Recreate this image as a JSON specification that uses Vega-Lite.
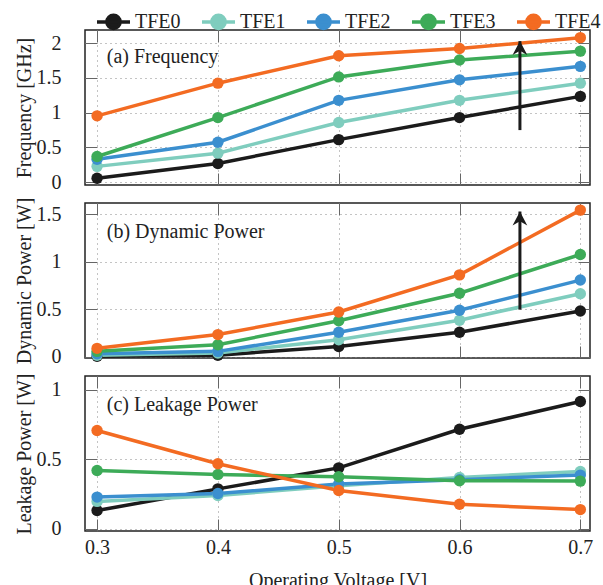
{
  "$schema": "https://vega.github.io/schema/vega-lite/v6.json",
  "padding": {"left": 13, "top": 3, "right": 0, "bottom": 0},
  "spacing": 18,
  "bounds": "flush",
  "datasets": {
    "freq": [
      {"v": 0.3, "val": 0.057, "s": "TFE0"}, {"v": 0.4, "val": 0.27, "s": "TFE0"}, {"v": 0.5, "val": 0.613, "s": "TFE0"}, {"v": 0.6, "val": 0.93, "s": "TFE0"}, {"v": 0.7, "val": 1.235, "s": "TFE0"},
      {"v": 0.3, "val": 0.228, "s": "TFE1"}, {"v": 0.4, "val": 0.418, "s": "TFE1"}, {"v": 0.5, "val": 0.86, "s": "TFE1"}, {"v": 0.6, "val": 1.178, "s": "TFE1"}, {"v": 0.7, "val": 1.425, "s": "TFE1"},
      {"v": 0.3, "val": 0.33, "s": "TFE2"}, {"v": 0.4, "val": 0.575, "s": "TFE2"}, {"v": 0.5, "val": 1.178, "s": "TFE2"}, {"v": 0.6, "val": 1.473, "s": "TFE2"}, {"v": 0.7, "val": 1.667, "s": "TFE2"},
      {"v": 0.3, "val": 0.37, "s": "TFE3"}, {"v": 0.4, "val": 0.93, "s": "TFE3"}, {"v": 0.5, "val": 1.515, "s": "TFE3"}, {"v": 0.6, "val": 1.758, "s": "TFE3"}, {"v": 0.7, "val": 1.886, "s": "TFE3"},
      {"v": 0.3, "val": 0.955, "s": "TFE4"}, {"v": 0.4, "val": 1.425, "s": "TFE4"}, {"v": 0.5, "val": 1.82, "s": "TFE4"}, {"v": 0.6, "val": 1.924, "s": "TFE4"}, {"v": 0.7, "val": 2.08, "s": "TFE4"}
    ],
    "dyn": [
      {"v": 0.3, "val": 0.003, "s": "TFE0"}, {"v": 0.4, "val": 0.014, "s": "TFE0"}, {"v": 0.5, "val": 0.107, "s": "TFE0"}, {"v": 0.6, "val": 0.256, "s": "TFE0"}, {"v": 0.7, "val": 0.481, "s": "TFE0"},
      {"v": 0.3, "val": 0.014, "s": "TFE1"}, {"v": 0.4, "val": 0.038, "s": "TFE1"}, {"v": 0.5, "val": 0.177, "s": "TFE1"}, {"v": 0.6, "val": 0.384, "s": "TFE1"}, {"v": 0.7, "val": 0.662, "s": "TFE1"},
      {"v": 0.3, "val": 0.03, "s": "TFE2"}, {"v": 0.4, "val": 0.055, "s": "TFE2"}, {"v": 0.5, "val": 0.256, "s": "TFE2"}, {"v": 0.6, "val": 0.488, "s": "TFE2"}, {"v": 0.7, "val": 0.807, "s": "TFE2"},
      {"v": 0.3, "val": 0.055, "s": "TFE3"}, {"v": 0.4, "val": 0.125, "s": "TFE3"}, {"v": 0.5, "val": 0.378, "s": "TFE3"}, {"v": 0.6, "val": 0.668, "s": "TFE3"}, {"v": 0.7, "val": 1.077, "s": "TFE3"},
      {"v": 0.3, "val": 0.087, "s": "TFE4"}, {"v": 0.4, "val": 0.232, "s": "TFE4"}, {"v": 0.5, "val": 0.471, "s": "TFE4"}, {"v": 0.6, "val": 0.862, "s": "TFE4"}, {"v": 0.7, "val": 1.545, "s": "TFE4"}
    ],
    "leak": [
      {"v": 0.3, "val": 0.132, "s": "TFE0"}, {"v": 0.4, "val": 0.288, "s": "TFE0"}, {"v": 0.5, "val": 0.439, "s": "TFE0"}, {"v": 0.6, "val": 0.717, "s": "TFE0"}, {"v": 0.7, "val": 0.917, "s": "TFE0"},
      {"v": 0.3, "val": 0.198, "s": "TFE1"}, {"v": 0.4, "val": 0.24, "s": "TFE1"}, {"v": 0.5, "val": 0.311, "s": "TFE1"}, {"v": 0.6, "val": 0.37, "s": "TFE1"}, {"v": 0.7, "val": 0.413, "s": "TFE1"},
      {"v": 0.3, "val": 0.229, "s": "TFE2"}, {"v": 0.4, "val": 0.255, "s": "TFE2"}, {"v": 0.5, "val": 0.323, "s": "TFE2"}, {"v": 0.6, "val": 0.354, "s": "TFE2"}, {"v": 0.7, "val": 0.387, "s": "TFE2"},
      {"v": 0.3, "val": 0.42, "s": "TFE3"}, {"v": 0.4, "val": 0.392, "s": "TFE3"}, {"v": 0.5, "val": 0.375, "s": "TFE3"}, {"v": 0.6, "val": 0.347, "s": "TFE3"}, {"v": 0.7, "val": 0.344, "s": "TFE3"},
      {"v": 0.3, "val": 0.708, "s": "TFE4"}, {"v": 0.4, "val": 0.469, "s": "TFE4"}, {"v": 0.5, "val": 0.276, "s": "TFE4"}, {"v": 0.6, "val": 0.177, "s": "TFE4"}, {"v": 0.7, "val": 0.139, "s": "TFE4"}
    ],
    "notesA": [{"v": 0.308, "val": 1.8, "label": "(a) Frequency"}],
    "notesB": [{"v": 0.308, "val": 1.31, "label": "(b) Dynamic Power"}],
    "notesC": [{"v": 0.308, "val": 0.89, "label": "(c) Leakage Power"}],
    "arrowA": [{"v": 0.65, "lo": 0.75, "hi": 2.03}],
    "arrowB": [{"v": 0.65, "lo": 0.495, "hi": 1.53}]
  },
  "vconcat": [
    {
      "width": 505, "height": 155,
      "layer": [
        {"data": {"name": "freq"}, "mark": {"type": "line", "strokeWidth": 3.5},
         "encoding": {
           "x": {"field": "v", "type": "quantitative", "scale": {"domain": [0.29, 0.708], "nice": false, "zero": false}, "axis": {"labels": false, "title": null, "values": [0.3, 0.4, 0.5, 0.6, 0.7], "tickSize": -12}},
           "y": {"field": "val", "type": "quantitative", "scale": {"domain": [-0.04, 2.19], "nice": false, "zero": false}, "axis": {"title": "Frequency [GHz]", "values": [0, 0.5, 1, 1.5, 2], "format": "~g", "tickSize": -12, "labelPadding": 36, "titlePadding": 2}},
           "color": {"field": "s", "type": "nominal", "scale": {"domain": ["TFE0", "TFE1", "TFE2", "TFE3", "TFE4"], "range": ["#1b1b1b", "#7fcdbe", "#3b8fcf", "#3dab58", "#f36b22"]},
             "legend": {"orient": "none", "legendX": 10, "legendY": -27, "direction": "horizontal", "title": null, "symbolType": "M-1,0L1,0M0.4,0A0.4,0.4,0,1,1,-0.4,0A0.4,0.4,0,1,1,0.4,0Z", "symbolSize": 1089, "symbolStrokeWidth": 3.5, "labelFontSize": 20, "labelFont": "Liberation Serif", "labelColor": "#222", "labelOffset": 3, "columnPadding": 14}}
         }},
        {"data": {"name": "freq"}, "mark": {"type": "point", "filled": true, "size": 130, "opacity": 1},
         "encoding": {
           "x": {"field": "v", "type": "quantitative", "scale": {"domain": [0.29, 0.708], "nice": false, "zero": false}, "axis": null},
           "y": {"field": "val", "type": "quantitative", "scale": {"domain": [-0.04, 2.19], "nice": false, "zero": false}, "axis": null},
           "color": {"field": "s", "type": "nominal", "legend": null}
         }},
        {"data": {"name": "freq"}, "mark": {"type": "point", "opacity": 0},
         "encoding": {
           "x": {"field": "v", "type": "quantitative", "scale": {"domain": [0.29, 0.708], "nice": false, "zero": false}, "axis": {"orient": "top", "labels": false, "title": null, "grid": false, "values": [0.3, 0.4, 0.5, 0.6, 0.7], "tickSize": -12}},
           "y": {"field": "val", "type": "quantitative", "scale": {"domain": [-0.04, 2.19], "nice": false, "zero": false}, "axis": {"orient": "right", "labels": false, "title": null, "grid": false, "values": [0, 0.5, 1, 1.5, 2], "tickSize": -12}}
         }},
        {"data": {"name": "notesA"}, "mark": {"type": "text", "align": "left", "baseline": "middle", "fontSize": 20, "font": "Liberation Serif", "color": "#222"},
         "encoding": {
           "x": {"field": "v", "type": "quantitative", "scale": {"domain": [0.29, 0.708], "nice": false, "zero": false}, "axis": null},
           "y": {"field": "val", "type": "quantitative", "scale": {"domain": [-0.04, 2.19], "nice": false, "zero": false}, "axis": null},
           "text": {"field": "label"}
         }},
        {"data": {"name": "arrowA"}, "mark": {"type": "rule", "strokeWidth": 3, "color": "#1b1b1b"},
         "encoding": {
           "x": {"field": "v", "type": "quantitative", "scale": {"domain": [0.29, 0.708], "nice": false, "zero": false}, "axis": null},
           "y": {"field": "lo", "type": "quantitative", "scale": {"domain": [-0.04, 2.19], "nice": false, "zero": false}, "axis": null},
           "y2": {"field": "hi"}
         }},
        {"data": {"name": "arrowA"}, "mark": {"type": "point", "filled": true, "shape": "M0,0L0.95,1.8L0,1.25L-0.95,1.8Z", "size": 240, "color": "#1b1b1b", "opacity": 1},
         "encoding": {
           "x": {"field": "v", "type": "quantitative", "scale": {"domain": [0.29, 0.708], "nice": false, "zero": false}, "axis": null},
           "y": {"field": "hi", "type": "quantitative", "scale": {"domain": [-0.04, 2.19], "nice": false, "zero": false}, "axis": null}
         }}
      ],
      "resolve": {"axis": {"x": "independent", "y": "independent"}}
    },
    {
      "width": 505, "height": 155,
      "layer": [
        {"data": {"name": "dyn"}, "mark": {"type": "line", "strokeWidth": 3.5},
         "encoding": {
           "x": {"field": "v", "type": "quantitative", "scale": {"domain": [0.29, 0.708], "nice": false, "zero": false}, "axis": {"labels": false, "title": null, "values": [0.3, 0.4, 0.5, 0.6, 0.7], "tickSize": -12}},
           "y": {"field": "val", "type": "quantitative", "scale": {"domain": [-0.015, 1.62], "nice": false, "zero": false}, "axis": {"title": "Dynamic Power [W]", "values": [0, 0.5, 1, 1.5], "format": "~g", "tickSize": -12, "labelPadding": 36, "titlePadding": 2}},
           "color": {"field": "s", "type": "nominal", "legend": null}
         }},
        {"data": {"name": "dyn"}, "mark": {"type": "point", "filled": true, "size": 130, "opacity": 1},
         "encoding": {
           "x": {"field": "v", "type": "quantitative", "scale": {"domain": [0.29, 0.708], "nice": false, "zero": false}, "axis": null},
           "y": {"field": "val", "type": "quantitative", "scale": {"domain": [-0.015, 1.62], "nice": false, "zero": false}, "axis": null},
           "color": {"field": "s", "type": "nominal", "legend": null}
         }},
        {"data": {"name": "dyn"}, "mark": {"type": "point", "opacity": 0},
         "encoding": {
           "x": {"field": "v", "type": "quantitative", "scale": {"domain": [0.29, 0.708], "nice": false, "zero": false}, "axis": {"orient": "top", "labels": false, "title": null, "grid": false, "values": [0.3, 0.4, 0.5, 0.6, 0.7], "tickSize": -12}},
           "y": {"field": "val", "type": "quantitative", "scale": {"domain": [-0.015, 1.62], "nice": false, "zero": false}, "axis": {"orient": "right", "labels": false, "title": null, "grid": false, "values": [0, 0.5, 1, 1.5], "tickSize": -12}}
         }},
        {"data": {"name": "notesB"}, "mark": {"type": "text", "align": "left", "baseline": "middle", "fontSize": 20, "font": "Liberation Serif", "color": "#222"},
         "encoding": {
           "x": {"field": "v", "type": "quantitative", "scale": {"domain": [0.29, 0.708], "nice": false, "zero": false}, "axis": null},
           "y": {"field": "val", "type": "quantitative", "scale": {"domain": [-0.015, 1.62], "nice": false, "zero": false}, "axis": null},
           "text": {"field": "label"}
         }},
        {"data": {"name": "arrowB"}, "mark": {"type": "rule", "strokeWidth": 3, "color": "#1b1b1b"},
         "encoding": {
           "x": {"field": "v", "type": "quantitative", "scale": {"domain": [0.29, 0.708], "nice": false, "zero": false}, "axis": null},
           "y": {"field": "lo", "type": "quantitative", "scale": {"domain": [-0.015, 1.62], "nice": false, "zero": false}, "axis": null},
           "y2": {"field": "hi"}
         }},
        {"data": {"name": "arrowB"}, "mark": {"type": "point", "filled": true, "shape": "M0,0L0.95,1.8L0,1.25L-0.95,1.8Z", "size": 240, "color": "#1b1b1b", "opacity": 1},
         "encoding": {
           "x": {"field": "v", "type": "quantitative", "scale": {"domain": [0.29, 0.708], "nice": false, "zero": false}, "axis": null},
           "y": {"field": "hi", "type": "quantitative", "scale": {"domain": [-0.015, 1.62], "nice": false, "zero": false}, "axis": null}
         }}
      ],
      "resolve": {"axis": {"x": "independent", "y": "independent"}}
    },
    {
      "width": 505, "height": 155,
      "layer": [
        {"data": {"name": "leak"}, "mark": {"type": "line", "strokeWidth": 3.5},
         "encoding": {
           "x": {"field": "v", "type": "quantitative", "scale": {"domain": [0.29, 0.708], "nice": false, "zero": false}, "axis": {"title": "Operating Voltage [V]", "values": [0.3, 0.4, 0.5, 0.6, 0.7], "format": "~g", "tickSize": -12, "labelPadding": 18, "titlePadding": 13}},
           "y": {"field": "val", "type": "quantitative", "scale": {"domain": [-0.015, 1.1], "nice": false, "zero": false}, "axis": {"title": "Leakage Power [W]", "values": [0, 0.5, 1], "format": "~g", "tickSize": -12, "labelPadding": 36, "titlePadding": 2}},
           "color": {"field": "s", "type": "nominal", "legend": null}
         }},
        {"data": {"name": "leak"}, "mark": {"type": "point", "filled": true, "size": 130, "opacity": 1},
         "encoding": {
           "x": {"field": "v", "type": "quantitative", "scale": {"domain": [0.29, 0.708], "nice": false, "zero": false}, "axis": null},
           "y": {"field": "val", "type": "quantitative", "scale": {"domain": [-0.015, 1.1], "nice": false, "zero": false}, "axis": null},
           "color": {"field": "s", "type": "nominal", "legend": null}
         }},
        {"data": {"name": "leak"}, "mark": {"type": "point", "opacity": 0},
         "encoding": {
           "x": {"field": "v", "type": "quantitative", "scale": {"domain": [0.29, 0.708], "nice": false, "zero": false}, "axis": {"orient": "top", "labels": false, "title": null, "grid": false, "values": [0.3, 0.4, 0.5, 0.6, 0.7], "tickSize": -12}},
           "y": {"field": "val", "type": "quantitative", "scale": {"domain": [-0.015, 1.1], "nice": false, "zero": false}, "axis": {"orient": "right", "labels": false, "title": null, "grid": false, "values": [0, 0.5, 1], "tickSize": -12}}
         }},
        {"data": {"name": "notesC"}, "mark": {"type": "text", "align": "left", "baseline": "middle", "fontSize": 20, "font": "Liberation Serif", "color": "#222"},
         "encoding": {
           "x": {"field": "v", "type": "quantitative", "scale": {"domain": [0.29, 0.708], "nice": false, "zero": false}, "axis": null},
           "y": {"field": "val", "type": "quantitative", "scale": {"domain": [-0.015, 1.1], "nice": false, "zero": false}, "axis": null},
           "text": {"field": "label"}
         }}
      ],
      "resolve": {"axis": {"x": "independent", "y": "independent"}}
    }
  ],
  "config": {
    "font": "Liberation Serif",
    "view": {"stroke": "#222", "strokeWidth": 1.5},
    "axis": {
      "domain": false,
      "labelFont": "Liberation Serif", "labelFontSize": 20, "labelColor": "#222",
      "titleFont": "Liberation Serif", "titleFontSize": 20, "titleFontWeight": "normal", "titleColor": "#222",
      "tickColor": "#666", "tickWidth": 1,
      "gridColor": "#888", "gridDash": [1, 4], "gridWidth": 1
    }
  }
}
